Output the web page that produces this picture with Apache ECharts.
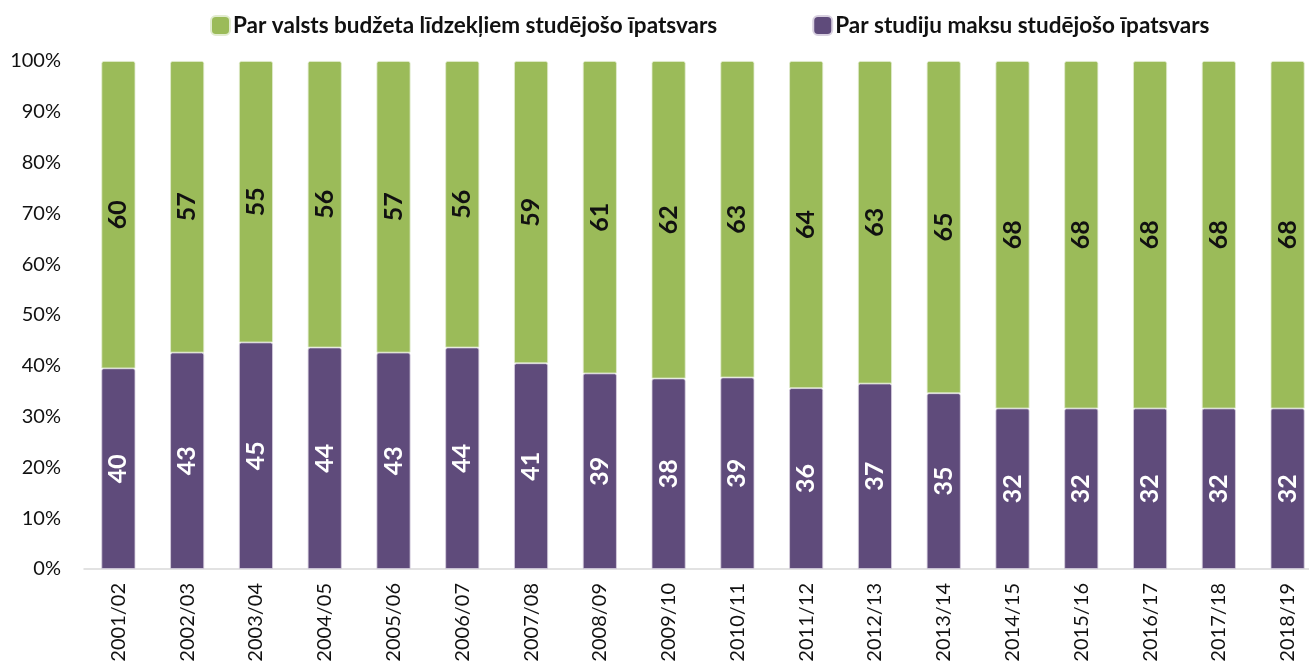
<!DOCTYPE html>
<html>
<head>
<meta charset="utf-8">
<script src="https://cdn.jsdelivr.net/npm/echarts@6/dist/echarts.min.js"></script>
<style>
  html, body { margin: 0; padding: 0; background: #fff; overflow: hidden; }
  /* the original plot runs slightly past the right edge of the picture */
  #chart { width: 1323px; height: 667px; }
</style>
</head>
<body>
<div id="chart"></div>
<script>
const years = ['2001/02', '2002/03', '2003/04', '2004/05', '2005/06', '2006/07', '2007/08', '2008/09', '2009/10',
  '2010/11', '2011/12', '2012/13', '2013/14', '2014/15', '2015/16', '2016/17', '2017/18', '2018/19']

// purple segment height as drawn (%), green fills the rest to 100
const paidShare = [39.5, 42.6, 44.6, 43.6, 42.6, 43.6, 40.5, 38.5, 37.5, 37.7, 35.6, 36.5, 34.6, 31.6, 31.6, 31.6, 31.6, 31.6]
const budgetShare = paidShare.map((v) => +(100 - v).toFixed(1))

// printed labels
const paidLabels = [40, 43, 45, 44, 43, 44, 41, 39, 38, 39, 36, 37, 35, 32, 32, 32, 32, 32]
const budgetLabels = [60, 57, 55, 56, 57, 56, 59, 61, 62, 63, 64, 63, 65, 68, 68, 68, 68, 68]

const budgetName = 'Par valsts budžeta līdzekļiem studējošo īpatsvars'
const paidName = 'Par studiju maksu studējošo īpatsvars'

const font = 'Lato, "Open Sans", sans-serif'
const green = '#9bbb59'
const purple = '#5f4b7b'

const chart = echarts.init(document.getElementById('chart'))

const labelStyle = (labels, color) => ({
  show: true,
  position: 'inside',
  rotate: 90,
  color,
  fontFamily: font,
  fontWeight: 'bold',
  fontSize: 25,
  formatter: (p) => String(labels[p.dataIndex])
})

chart.setOption({
  animation: false,
  legend: {
    top: 9,
    left: 205,
    width: 1100,
    itemGap: 95,
    itemWidth: 19,
    itemHeight: 19,
    icon: 'roundRect',
    data: [budgetName, paidName],
    textStyle: {
      fontFamily: font,
      fontWeight: 'bold',
      fontSize: 22.5,
      color: '#111',
      padding: [0, 0, 0, -2]
    }
  },
  grid: {
    left: 84,
    right: 1,
    top: 61,
    bottom: 98,
    containLabel: false
  },
  xAxis: {
    type: 'category',
    data: years,
    axisLine: { lineStyle: { color: '#d9d9d9', width: 1.5 } },
    axisTick: { show: false },
    axisLabel: {
      rotate: 90,
      margin: 14,
      interval: 0,
      color: '#111',
      fontFamily: font,
      fontSize: 20
    }
  },
  yAxis: {
    type: 'value',
    min: 0,
    max: 100,
    interval: 10,
    axisLine: { show: false },
    axisTick: { show: false },
    splitLine: { show: false },
    axisLabel: {
      formatter: '{value}%',
      margin: 23,
      color: '#111',
      fontFamily: font,
      fontSize: 20
    }
  },
  series: [
    {
      name: paidName,
      type: 'bar',
      stack: 'total',
      barWidth: 34,
      data: paidShare,
      itemStyle: { color: purple, borderColor: '#d8d0e0', borderWidth: 0.8, borderRadius: [2, 2, 0, 0] },
      label: labelStyle(paidLabels, '#fff')
    },
    {
      name: budgetName,
      type: 'bar',
      stack: 'total',
      barWidth: 34,
      data: budgetShare,
      itemStyle: { color: green, borderColor: '#e2ecd0', borderWidth: 0.8, borderRadius: [2, 2, 0, 0] },
      label: labelStyle(budgetLabels, '#111')
    }
  ]
})
</script>
</body>
</html>
